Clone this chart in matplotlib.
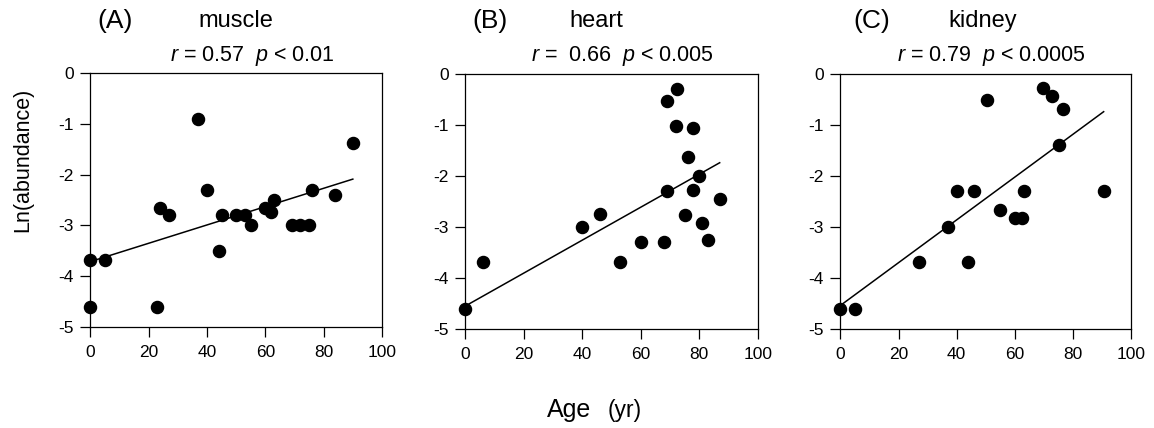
import numpy as np
import matplotlib
matplotlib.use('Agg')
import matplotlib.pyplot as plt

plt.rcParams['font.family'] = ['Liberation Sans', 'DejaVu Sans']
plt.rcParams['mathtext.fontset'] = 'custom'
plt.rcParams['mathtext.it'] = 'Liberation Sans:italic'
plt.rcParams['mathtext.rm'] = 'Liberation Sans'

# data
muscle_age = [0, 0, 5, 23, 24, 27, 37, 40, 44, 45, 50, 53, 55, 60, 62, 63, 69, 72, 75, 76, 84, 90]
muscle_ln = [-3.68, -4.6, -3.68, -4.6, -2.65, -2.8, -0.91, -2.3, -3.5, -2.8, -2.8, -2.8, -3.0,
             -2.65, -2.74, -2.5, -3.0, -3.0, -3.0, -2.3, -2.4, -1.38]

heart_age = [0, 6, 40, 46, 53, 60, 68, 69, 69, 72.5, 72, 75, 76, 78, 78, 80, 81, 83, 87]
heart_ln = [-4.6, -3.69, -3.0, -2.74, -3.69, -3.3, -3.3, -0.53, -2.3, -0.29, -1.01, -2.77,
            -1.63, -1.05, -2.28, -2.0, -2.93, -3.26, -2.46]

kidney_age = [0, 5, 27, 37, 40, 44, 46, 50.5, 55, 60, 62.5, 63, 69.5, 72.7, 75, 76.6, 90.5]
kidney_ln = [-4.6, -4.6, -3.69, -3.0, -2.3, -3.69, -2.3, -0.51, -2.67, -2.82, -2.82, -2.3,
             -0.28, -0.43, -1.39, -0.69, -2.3]

# regression lines (slope, intercept, x range) as drawn in the picture
fit_slope = [0.018, 0.0323, 0.042]
fit_icept = [-3.71, -4.55, -4.54]
fit_xmax = [90, 87, 90.5]

letters = ['(A)', '(B)', '(C)']
tissues = ['muscle', 'heart', 'kidney']
stats = [r'$r$ = 0.57  $p$ < 0.01', r'$r$ =  0.66  $p$ < 0.005', r'$r$ = 0.79  $p$ < 0.0005']

ages = [muscle_age, heart_age, kidney_age]
lns = [muscle_ln, heart_ln, kidney_ln]

W, H = 1154, 428
fig = plt.figure(figsize=(W / 100, H / 100), dpi=100)

# axes boxes in pixels: left, top, right, bottom
boxes = [(90.3, 72.7, 382, 327.3), (465.3, 74, 757.7, 329), (840.3, 74, 1131.3, 329)]
stat_cx = [252, 622, 991]
letter_dx = [6.7, 7, 12.7]
tissue_dx = [107.7, 104, 107.7]

for i in range(3):
    l, t, r, b = boxes[i]
    ax = fig.add_axes([l / W, 1 - b / H, (r - l) / W, (b - t) / H])
    ax.plot(ages[i], lns[i], 'o', color='black', markersize=8.7, clip_on=False, zorder=3)
    xs = np.array([0, fit_xmax[i]])
    ax.plot(xs, fit_slope[i] * xs + fit_icept[i], color='black', lw=1.1)
    ax.set_xlim(0, 100)
    ax.set_ylim(-5, 0)
    ax.set_xticks([0, 20, 40, 60, 80, 100])
    ax.set_yticks([-5, -4, -3, -2, -1, 0])
    ax.set_yticklabels(['-5', '-4', '-3', '-2', '-1', '0'])
    ax.tick_params(axis='x', direction='out', length=7, width=0.9, pad=6, labelsize=12.5)
    ax.tick_params(axis='y', direction='out', length=7, width=0.9, pad=5, labelsize=12.5)
    for s in ax.spines.values():
        s.set_linewidth(0.9)

    fig.text((l + letter_dx[i]) / W, 1 - 21 / H, letters[i], fontsize=19, ha='left', va='center')
    fig.text((l + tissue_dx[i]) / W, 1 - 21 / H, tissues[i], fontsize=17, ha='left', va='center')
    fig.text(stat_cx[i] / W, 1 - 56.5 / H, stats[i], fontsize=15.5, ha='center', va='center')

fig.text(23 / W, 1 - 160 / H, 'Ln(abundance)', fontsize=15.5, rotation=90, ha='center', va='center')
fig.text(547 / W, 11.3 / H, 'Age', fontsize=18, ha='left', va='baseline')
fig.text(608 / W, 11.3 / H, '(yr)', fontsize=16.5, ha='left', va='baseline')

fig.savefig('out.png', dpi=100)
